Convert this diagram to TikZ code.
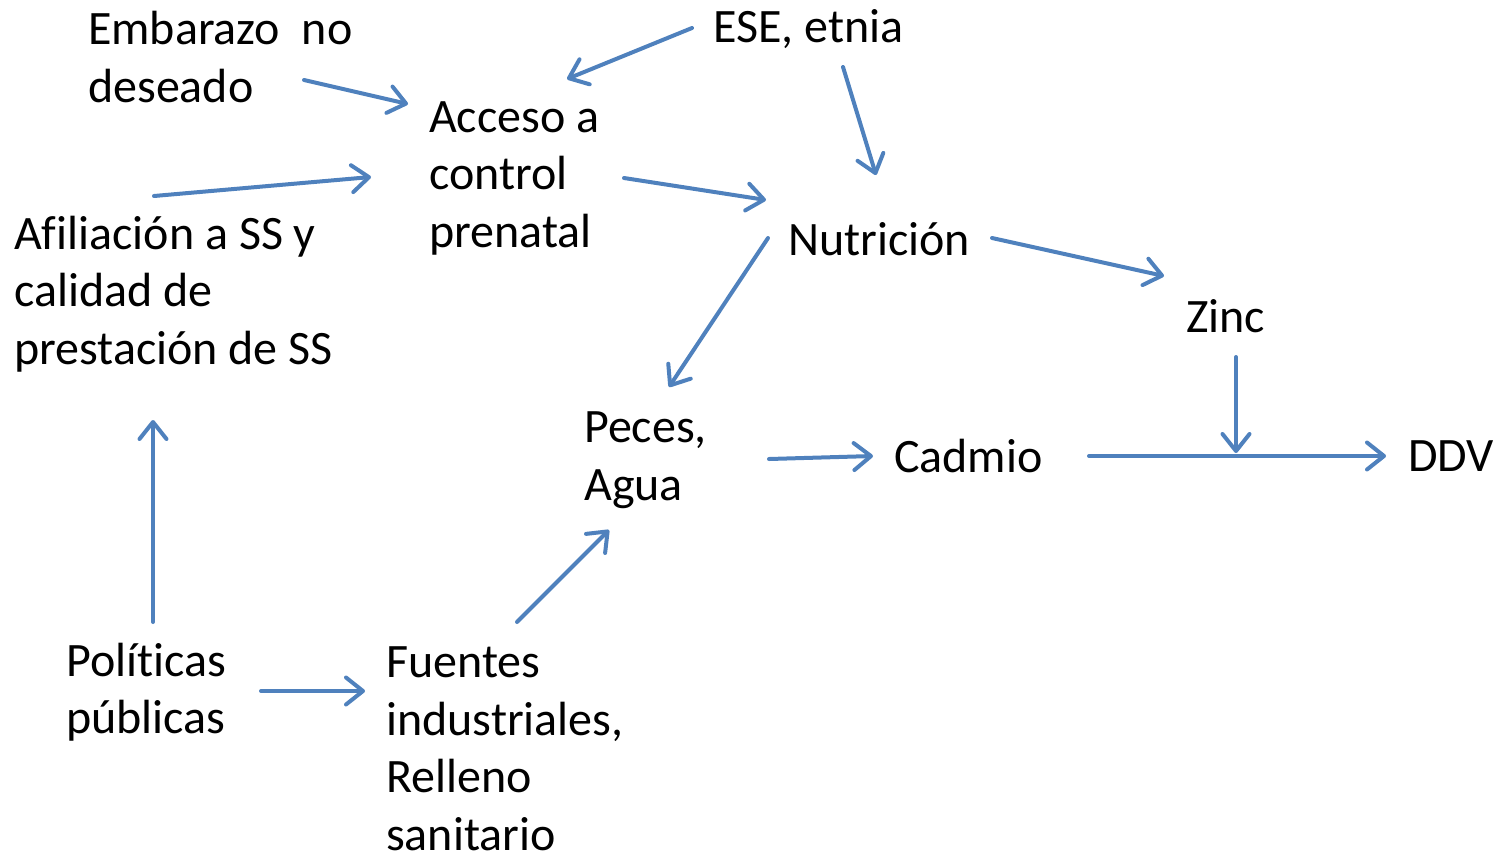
\documentclass[tikz,border=0pt]{standalone}
\usepackage{fontspec}
\setmainfont{Carlito}[Ligatures={NoCommon}]
\usetikzlibrary{arrows.meta}
\definecolor{arrowblue}{HTML}{4F81BD}
\begin{document}
\begin{tikzpicture}[x=1pt,y=-1pt,
  lbl/.style={anchor=west,inner sep=0pt,align=left,font=\fontsize{48}{57.5}\selectfont},
  conn/.style={draw=arrowblue,line width=4pt,line cap=round,
    -{Straight Barb[length=17pt,width=27pt,line cap=round,line join=round]}}]
\useasboundingbox (0,0) rectangle (1498,855);
% nodes
\node[lbl] (emb) at (88,57) {Embarazo\ \ no\\deseado};
\node[lbl] (ese) at (713,29) {ESE, etnia};
\node[lbl] (acc) at (429,178) {Acceso a\\control\\prenatal};
\node[lbl] (afi) at (14,294) {Afiliación a SS y\\calidad de\\prestación de SS};
\node[lbl] (nut) at (788,239) {Nutrición};
\node[lbl] (zin) at (1186,316) {Zinc};
\node[lbl] (pec) at (584,460) {Peces,\\Agua};
\node[lbl] (cad) at (894,456) {Cadmio};
\node[lbl] (ddv) at (1408,456) {DDV};
\node[lbl] (pol) at (66,692) {Políticas\\públicas};
\node[lbl] (fue) at (386,749) {Fuentes\\industriales,\\Relleno\\sanitario};
% connector end points
\coordinate (a1s) at (304,80);  \coordinate (a1e) at (408,104);
\coordinate (a2s) at (692,28);  \coordinate (a2e) at (567,79);
\coordinate (a3s) at (843,67);  \coordinate (a3e) at (876,175);
\coordinate (a4s) at (154,196); \coordinate (a4e) at (371,177);
\coordinate (a5s) at (624,178); \coordinate (a5e) at (766,200);
\coordinate (a6s) at (768,238); \coordinate (a6e) at (669,387);
\coordinate (a7s) at (992,238); \coordinate (a7e) at (1164,276);
\coordinate (a8s) at (1236,357); \coordinate (a8e) at (1236,453);
\coordinate (a9s) at (1089,456); \coordinate (a9e) at (1386,456);
\coordinate (a10s) at (769,459); \coordinate (a10e) at (873,456);
\coordinate (a11s) at (517,622); \coordinate (a11e) at (609,530);
\coordinate (a12s) at (153,622); \coordinate (a12e) at (153,420);
\coordinate (a13s) at (261,691); \coordinate (a13e) at (365,691);
\draw[conn] (a1s) -- (a1e);
\draw[conn] (a2s) -- (a2e);
\draw[conn] (a3s) -- (a3e);
\draw[conn] (a4s) -- (a4e);
\draw[conn] (a5s) -- (a5e);
\draw[conn] (a6s) -- (a6e);
\draw[conn] (a7s) -- (a7e);
\draw[conn] (a8s) -- (a8e);
\draw[conn] (a9s) -- (a9e);
\draw[conn] (a10s) -- (a10e);
\draw[conn] (a11s) -- (a11e);
\draw[conn] (a12s) -- (a12e);
\draw[conn] (a13s) -- (a13e);
\end{tikzpicture}
\end{document}
